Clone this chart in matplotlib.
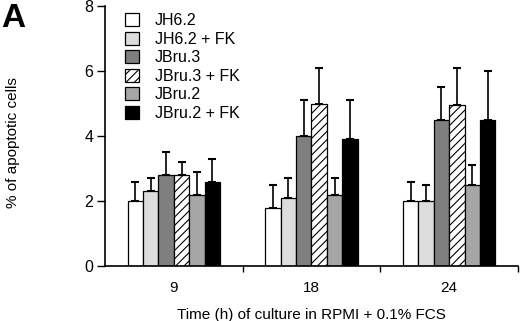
import matplotlib
matplotlib.use("Agg")
import matplotlib.pyplot as plt
import numpy as np

plt.rcParams['font.family'] = ['Liberation Sans', 'DejaVu Sans']
plt.rcParams['hatch.linewidth'] = 0.8

groups = ['9', '18', '24']
series = ['JH6.2', 'JH6.2 + FK', 'JBru.3', 'JBru.3 + FK', 'JBru.2', 'JBru.2 + FK']
values = {
    'JH6.2':       [2.0, 1.8, 2.0],
    'JH6.2 + FK':  [2.3, 2.1, 2.0],
    'JBru.3':      [2.8, 4.0, 4.5],
    'JBru.3 + FK': [2.8, 5.0, 4.95],
    'JBru.2':      [2.2, 2.2, 2.5],
    'JBru.2 + FK': [2.6, 3.9, 4.5],
}
err_top = {
    'JH6.2':       [2.6, 2.5, 2.6],
    'JH6.2 + FK':  [2.7, 2.7, 2.5],
    'JBru.3':      [3.5, 5.1, 5.5],
    'JBru.3 + FK': [3.2, 6.1, 6.1],
    'JBru.2':      [2.9, 2.7, 3.1],
    'JBru.2 + FK': [3.3, 5.1, 6.0],
}
colors = ['white', '#dcdcdc', '#7f7f7f', 'white', '#a6a6a6', 'black']
hatches = [None, None, None, '////', None, None]

fig = plt.figure(figsize=(5.2, 3.21), dpi=100)
ax = fig.add_axes([0.202, 0.171, 0.794, 0.81])

x = np.arange(len(groups))
w = 0.112
for i, s in enumerate(series):
    pos = x + (i - 2.5) * w
    v = np.array(values[s])
    e = np.array(err_top[s]) - v
    ax.bar(pos, v, w, color=colors[i], edgecolor='black', linewidth=0.9,
           hatch=hatches[i], label=s, zorder=2)
    ax.errorbar(pos, v, yerr=[np.zeros_like(e), e], fmt='none', ecolor='black',
                elinewidth=1.2, capsize=3, capthick=1.5, zorder=1)

ax.set_xlim(-0.5, 2.5)
ax.set_ylim(0, 8)
ax.set_yticks([0, 2, 4, 6, 8])
ax.set_xticks(x)
ax.set_xticklabels(groups)
ax.tick_params(axis='x', length=0, pad=11, labelsize=11)
ax.set_xticks([0.5, 1.5, 2.5], minor=True)
ax.tick_params(axis='x', which='minor', length=4, width=1)
ax.tick_params(axis='y', length=5.5, width=1, labelsize=11.5, pad=3)
for sp in ['top', 'right']:
    ax.spines[sp].set_visible(False)
for sp in ['left', 'bottom']:
    ax.spines[sp].set_linewidth(1.2)

ax.set_xlabel('Time (h) of culture in RPMI + 0.1% FCS', fontsize=11, labelpad=9)
ax.set_ylabel('% of apoptotic cells', fontsize=11)
ax.yaxis.set_label_coords(-0.205, 0.475)

leg = ax.legend(loc='upper left', bbox_to_anchor=(0.025, 1.01), frameon=False,
                fontsize=11.5, handlelength=0.875, handleheight=0.875,
                handletextpad=1.0, labelspacing=0.22, borderaxespad=0.2)

fig.text(0.003, 0.992, 'A', fontsize=24, fontweight='bold', va='top', ha='left')

fig.savefig('out.png', dpi=100)
